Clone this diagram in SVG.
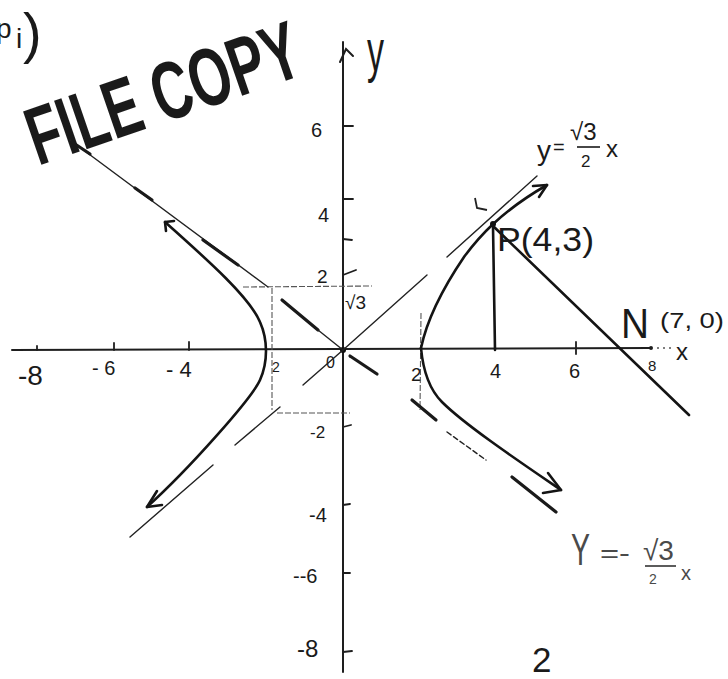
<svg xmlns="http://www.w3.org/2000/svg" width="728" height="679" viewBox="0 0 728 679">
<style>
.ax{stroke:#1e1e1e;stroke-width:2;fill:none;stroke-linecap:round}
.tk{stroke:#1e1e1e;stroke-width:1.8;fill:none;stroke-linecap:round}
.cv{stroke:#141414;stroke-width:2.6;fill:none;stroke-linecap:round;stroke-linejoin:round}
.as{stroke:#222;stroke-width:1.4;fill:none;stroke-linecap:round}
.ast{stroke:#1a1a1a;stroke-width:3.2;fill:none;stroke-linecap:round}
.dsh{stroke:#555;stroke-width:1.1;fill:none;stroke-dasharray:6 2}
.hw{font-family:"Liberation Sans","DejaVu Sans",sans-serif;fill:#1a1a1a}
.faint{fill:#4a4a4a}
</style>
<rect width="728" height="679" fill="#fff"/>

<g id="stamp">
<text class="hw" transform="translate(38,166) rotate(-19)" x="0" y="0" font-family="DejaVu Sans Condensed, DejaVu Sans, sans-serif" font-weight="bold" font-size="82" textLength="284" lengthAdjust="spacingAndGlyphs" fill="#333">FILE COPY</text>
</g>

<g id="question-label">
<text class="hw" x="-4" y="38" font-size="28">p</text>
<text class="hw" x="16" y="48" font-size="28">i</text>
<text class="hw" x="23" y="52" font-size="56">)</text>
</g>

<g id="axes">
<line class="ax" x1="343" y1="42" x2="343" y2="672"/>
<path class="ax" d="M340,62 L346,49 L353,56"/>
<line class="ax" x1="12" y1="350" x2="651" y2="348"/>
<circle cx="651" cy="348" r="2" fill="#1e1e1e"/>
<line x1="657" y1="348" x2="672" y2="348" stroke="#555" stroke-width="1.5" stroke-dasharray="2 4"/>
<circle cx="343" cy="350" r="3" fill="#111"/>
<line class="tk" x1="343" y1="126" x2="353" y2="126"/>
<line class="tk" x1="343" y1="199" x2="353" y2="199"/>
<line class="tk" x1="343" y1="239" x2="352" y2="240"/>
<line class="tk" x1="343" y1="275" x2="356" y2="270"/>
<line class="tk" x1="343" y1="427" x2="351" y2="425"/>
<line class="tk" x1="343" y1="505" x2="350" y2="504"/>
<line class="tk" x1="343" y1="573" x2="350" y2="573"/>
<line class="tk" x1="343" y1="652" x2="352" y2="651"/>
<line class="tk" x1="37" y1="346" x2="37" y2="350"/>
<line class="tk" x1="114" y1="343" x2="114" y2="350"/>
<line class="tk" x1="189" y1="342" x2="189" y2="350"/>
<line class="tk" x1="576" y1="342" x2="576" y2="354"/>
</g>

<g id="axis-labels">
<text class="hw" x="367" y="71" font-size="60" textLength="17" lengthAdjust="spacingAndGlyphs">y</text>
<text class="hw" x="676" y="360" font-size="24">x</text>
<text class="hw" x="311" y="137" font-size="20">6</text>
<text class="hw" x="318" y="222" font-size="20">4</text>
<text class="hw" x="317" y="283" font-size="19">2</text>
<text class="hw" x="345" y="309" font-size="19">√3</text>
<text class="hw" x="310" y="438" font-size="17">-2</text>
<text class="hw" x="309" y="522" font-size="20">-4</text>
<text class="hw" x="293" y="583" font-size="20">--6</text>
<text class="hw" x="297" y="657" font-size="24">-8</text>
<text class="hw" x="18" y="385" font-size="28">-8</text>
<text class="hw" x="92" y="375" font-size="20">- 6</text>
<text class="hw" x="166" y="377" font-size="22">- 4</text>
<text class="hw" x="272" y="372" font-size="14">2</text>
<text class="hw" x="326" y="368" font-size="16">0</text>
<text class="hw" x="411" y="381" font-size="19">2</text>
<text class="hw" x="490" y="378" font-size="20">4</text>
<text class="hw" x="569" y="378" font-size="20">6</text>
<text class="hw" x="648" y="371" font-size="15">8</text>
</g>

<g id="guide-lines">
<line class="dsh" x1="243" y1="287" x2="372" y2="286"/>
<line class="dsh" x1="277" y1="413" x2="350" y2="413"/>
<line class="dsh" x1="272" y1="288" x2="272" y2="410"/>
<line class="dsh" x1="421" y1="313" x2="420" y2="410"/>
</g>

<g id="asymptote-neg">
<line class="as" x1="70" y1="140" x2="268" y2="287"/>
<line class="ast" x1="72" y1="142" x2="90" y2="154"/>
<line class="ast" x1="135" y1="188" x2="152" y2="200"/>
<line class="ast" x1="203" y1="240" x2="238" y2="265"/>
<line class="ast" x1="282" y1="300" x2="318" y2="330"/>
<line class="as" x1="318" y1="330" x2="343" y2="350"/>
<line class="ast" x1="350" y1="356" x2="377" y2="374"/>
<line class="ast" x1="412" y1="400" x2="436" y2="420"/>
<line class="as" x1="447" y1="432" x2="486" y2="460" stroke-dasharray="5 3" stroke="#555"/>
<line class="ast" x1="512" y1="477" x2="556" y2="512" stroke-width="2.4"/>
</g>

<g id="asymptote-pos">
<line class="as" x1="130" y1="537" x2="213" y2="465" stroke-width="2"/>
<line class="as" x1="235" y1="445" x2="280" y2="407" stroke-width="2"/>
<line class="as" x1="303" y1="385" x2="343" y2="350" stroke-width="2"/>
<line class="as" x1="343" y1="350" x2="427" y2="275"/>
<line class="as" x1="447" y1="257" x2="537" y2="176"/>
</g>

<g id="hyperbola-left">
<path class="cv" d="M165,222 C210,262 250,298 260,322 C268,340 268,362 260,380 C252,398 190,468 147,507"/>
<path class="cv" d="M174,221 L165,222 L166,231"/>
<path class="cv" d="M157,491 L147,507 L162,505"/>
</g>

<g id="hyperbola-right">
<path class="cv" d="M421,348 C428,315 445,285 464,257 C478,238 500,212 547,185"/>
<path class="cv" d="M533,186 L547,185 L539,197"/>
<path class="cv" d="M421,348 C423,370 430,390 442,402 C465,425 520,462 561,490"/>
<path class="cv" d="M548,473 L561,490 L543,493"/>
<path d="M475,198 L477,208 L487,210" stroke="#222" stroke-width="1.8" fill="none"/>
</g>

<g id="point-P">
<circle cx="493" cy="224" r="3" fill="#111"/>
<line class="cv" x1="493" y1="226" x2="495" y2="350" stroke-width="2"/>
<line class="cv" x1="492" y1="225" x2="689" y2="415" stroke-width="2"/>
<text class="hw" x="497" y="251" font-size="34" textLength="97" lengthAdjust="spacingAndGlyphs">P(4,3)</text>
</g>

<g id="point-N">
<text class="hw" x="621" y="338" font-size="42" textLength="28" lengthAdjust="spacingAndGlyphs">N</text>
<text class="hw" x="660" y="328" font-size="22" textLength="64" lengthAdjust="spacingAndGlyphs">(7, 0)</text>
</g>

<g id="label-pos-asymptote">
<text class="hw" x="537" y="160" font-size="28">y</text>
<text class="hw" x="553" y="154" font-size="20">=</text>
<text class="hw" x="570" y="140" font-size="24">√3</text>
<line x1="577" y1="147" x2="600" y2="147" stroke="#1a1a1a" stroke-width="1.6"/>
<text class="hw" x="581" y="167" font-size="17">2</text>
<text class="hw" x="606" y="157" font-size="24">x</text>
</g>

<g id="label-neg-asymptote">
<text class="hw faint" x="571" y="565" font-size="44" textLength="19" lengthAdjust="spacingAndGlyphs">Y</text>
<text class="hw faint" x="600" y="562" font-size="26" textLength="30" lengthAdjust="spacingAndGlyphs">=-</text>
<text class="hw faint" x="643" y="560" font-size="28">√3</text>
<line x1="645" y1="566" x2="676" y2="566" stroke="#4a4a4a" stroke-width="1.8"/>
<text class="hw faint" x="649" y="584" font-size="14">2</text>
<text class="hw faint" x="681" y="580" font-size="20">x</text>
</g>

<g id="page-number">
<text class="hw" x="532" y="672" font-size="35">2</text>
</g>
</svg>
